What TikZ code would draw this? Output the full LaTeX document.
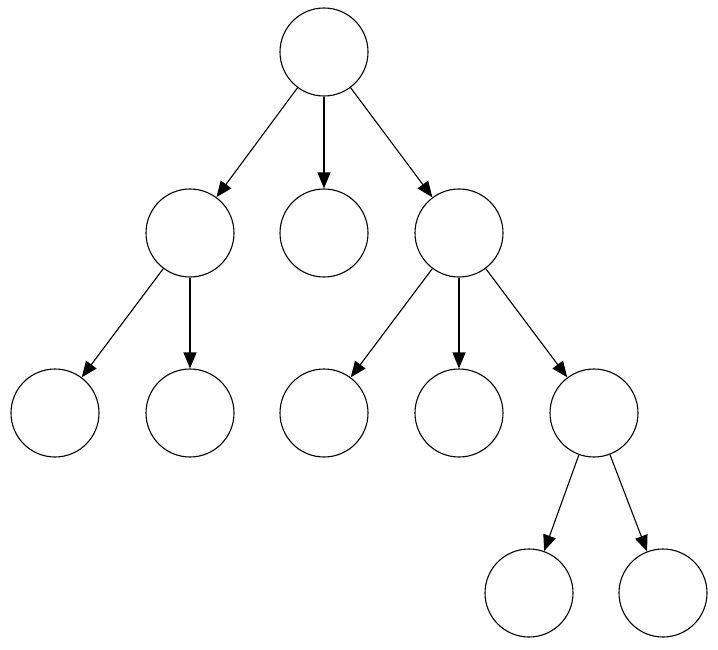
\documentclass[tikz,border=0pt]{standalone}
\usetikzlibrary{arrows.meta}
\begin{document}
\begin{tikzpicture}[x=1pt,y=-1pt,
  vert/.style={circle,draw,line width=1.1pt,minimum size=88pt,inner sep=0pt},
  edge/.style={line width=1.1pt,-{Triangle[length=16pt,width=13pt]}}]
\useasboundingbox (0,0) rectangle (718,650);
\node[vert] (r) at (324,52) {};
\node[vert] (a) at (190,233) {};
\node[vert] (b) at (324,233) {};
\node[vert] (c) at (459,233) {};
\node[vert] (a1) at (55,413) {};
\node[vert] (a2) at (190,413) {};
\node[vert] (c1) at (324,413) {};
\node[vert] (c2) at (459,413) {};
\node[vert] (c3) at (594,413) {};
\node[vert] (d1) at (529,593) {};
\node[vert] (d2) at (663,593) {};
\foreach \s/\t in {r/a,r/b,r/c,a/a1,a/a2,c/c1,c/c2,c/c3,c3/d1,c3/d2}
  \draw[edge] (\s) -- (\t);
\end{tikzpicture}
\end{document}
